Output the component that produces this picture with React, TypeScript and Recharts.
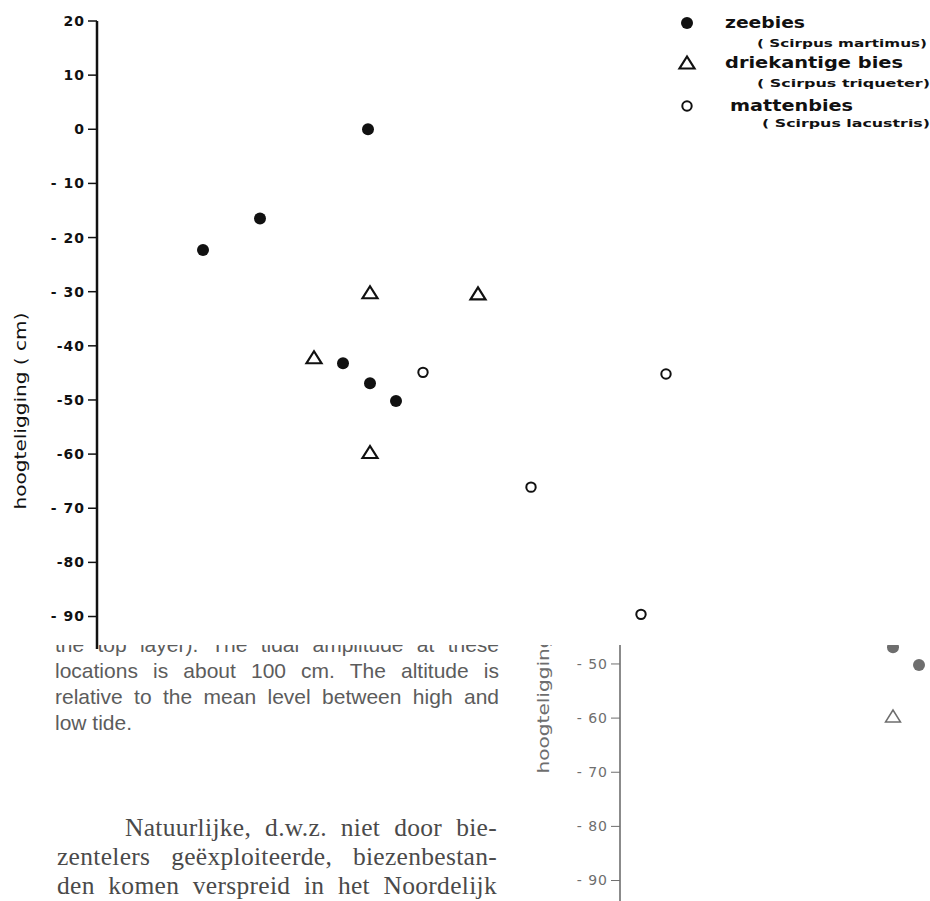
import React from 'react'
import { ScatterChart, Scatter, XAxis, YAxis, Legend } from 'recharts'

// y axis ticks and how they are printed in the figure
const yTicks = [20, 10, 0, -10, -20, -30, -40, -50, -60, -70, -80, -90]
const yTickLabels = ['20', '10', '0', '- 10', '- 20', '- 30', '-40', '-50', '-60', '- 70', '-80', '- 90']

// series (x has no axis in the figure, it only spreads the points)
const zeebiesX = [27.1, 16.3, 10.6, 24.6, 27.3, 29.9]
const zeebiesY = [0, -16.5, -22.3, -43.2, -46.9, -50.2]
const driekantigeX = [27.3, 38.1, 21.7, 27.3]
const driekantigeY = [-30.2, -30.4, -42.2, -59.7]
const mattenbiesX = [32.6, 56.9, 43.4, 54.4]
const mattenbiesY = [-44.9, -45.2, -66.1, -89.6]

const seriesNames = ['zeebies', 'driekantige bies', 'mattenbies']
const latinNames = ['( Scirpus martimus)', '( Scirpus triqueter)', '( Scirpus lacustris)']

const captionLines = [
  'the top layer). The tidal amplitude at these',
  'locations is about 100 cm. The altitude is',
  'relative to the mean level between high and',
  'low tide.',
]
const bodyLines = [
  'Natuurlijke, d.w.z. niet door bie-',
  'zentelers geëxploiteerde, biezenbestan-',
  'den komen verspreid in het Noordelijk',
]

const toPoints = (xs: number[], ys: number[]) => xs.map((x, i) => ({ x, y: ys[i] }))

const FONT = '"DejaVu Sans", sans-serif'

function Dot({ cx, cy, color }: any) {
  return <circle cx={cx} cy={cy} r={6} fill={color} />
}
function Tri({ cx, cy, color, w = 2.2 }: any) {
  return (
    <path
      d={`M${cx},${cy - 6.5} L${cx - 7.5},${cy + 5.5} L${cx + 7.5},${cy + 5.5} Z`}
      fill="none"
      stroke={color}
      strokeWidth={w}
      strokeLinejoin="miter"
    />
  )
}
function Ring({ cx, cy, color, w = 2 }: any) {
  return <circle cx={cx} cy={cy} r={4.7} fill="none" stroke={color} strokeWidth={w} />
}

function LegendBox() {
  const c = '#111'
  const nameW = [80, 178, 123]
  const latinW = [170, 173, 168]
  const rows = [
    { sy: 23, nx: 65, ny: 28, lx: 97, ly: 47 },
    { sy: 63, nx: 65, ny: 68, lx: 97, ly: 87 },
    { sy: 106, nx: 70, ny: 111, lx: 102, ly: 127 },
  ]
  return (
    <div style={{ position: 'relative', height: 0 }}>
      <svg width={270} height={135} style={{ position: 'absolute', left: 0, top: 0 }}>
        {rows.map((r, i) => (
          <g key={i}>
            {i === 0 && <Dot cx={27} cy={r.sy} color={c} />}
            {i === 1 && <Tri cx={27} cy={r.sy} color={c} />}
            {i === 2 && <Ring cx={27} cy={r.sy} color={c} />}
            <text x={r.nx} y={r.ny} fontFamily={FONT} fontWeight={700} fontSize={15.5} fill={c}
              textLength={nameW[i]} lengthAdjust="spacingAndGlyphs">
              {seriesNames[i]}
            </text>
            <text x={r.lx} y={r.ly} fontFamily={FONT} fontWeight={700} fontSize={10.5} fill={c}
              textLength={latinW[i]} lengthAdjust="spacingAndGlyphs">
              {latinNames[i]}
            </text>
          </g>
        ))}
      </svg>
    </div>
  )
}

function AltitudeChart({ ghost = false }: { ghost?: boolean }) {
  const color = ghost ? '#6e6e6e' : '#111'
  const labels = ghost
    ? yTickLabels.map((l) => (l.startsWith('-') && !l.startsWith('- ') ? '- ' + l.slice(1) : l))
    : yTickLabels
  return (
    <ScatterChart width={930} height={901} margin={{ top: 21, right: 3, bottom: 252, left: 57 }}>
      <XAxis type="number" dataKey="x" domain={[0, 83]} hide />
      <YAxis
        type="number"
        dataKey="y"
        domain={[-96, 20]}
        ticks={yTicks}
        interval={0}
        width={40}
        tickSize={9}
        tickMargin={3}
        axisLine={{ stroke: color, strokeWidth: ghost ? 1.6 : 2.5 }}
        tickLine={{ stroke: color, strokeWidth: ghost ? 1 : 1.5 }}
        tick={{
          fill: color,
          fontSize: 14,
          fontWeight: ghost ? 400 : 700,
          fontFamily: FONT,
          letterSpacing: 1,
        }}
        tickFormatter={(v: number) => labels[yTicks.indexOf(v)] ?? String(v)}
        label={{
          content: () => (
            <text
              x={0}
              y={0}
              transform="translate(26,411) rotate(-90)"
              textAnchor="middle"
              fontFamily={FONT}
              fontSize={16}
              fill={color}
              textLength={197}
              lengthAdjust="spacingAndGlyphs"
            >
              hoogteligging ( cm)
            </text>
          ),
        }}
      />
      <Scatter
        name={seriesNames[0]}
        data={toPoints(zeebiesX, zeebiesY)}
        isAnimationActive={false}
        shape={(p: any) => <Dot cx={p.cx} cy={p.cy} color={color} />}
      />
      <Scatter
        name={seriesNames[1]}
        data={toPoints(driekantigeX, driekantigeY)}
        isAnimationActive={false}
        shape={(p: any) => <Tri cx={p.cx} cy={p.cy} color={color} w={ghost ? 1.5 : 2.2} />}
      />
      <Scatter
        name={seriesNames[2]}
        data={toPoints(mattenbiesX, mattenbiesY)}
        isAnimationActive={false}
        shape={(p: any) => <Ring cx={p.cx} cy={p.cy} color={color} w={ghost ? 1.5 : 2} />}
      />
      {!ghost && (
        <Legend
          content={() => <LegendBox />}
          wrapperStyle={{ position: 'absolute', left: 660, top: 0, width: 270, height: 0, overflow: 'visible' }}
        />
      )}
    </ScatterChart>
  )
}

export default function App() {
  return (
    <div style={{ position: 'absolute', left: 0, top: 0, width: 930, height: 901, overflow: 'hidden', background: '#fff' }}>
      {/* caption, its first line partly hidden under the figure */}
      <div style={{ position: 'absolute', left: 55, top: 645, width: 444, height: 96, overflow: 'hidden' }}>
        <div style={{ marginTop: -13, fontFamily: '"Liberation Sans", Arial, sans-serif', fontSize: 21, lineHeight: '26px', color: '#5c5c5c' }}>
          {captionLines.map((l, i) => (
            <div key={i} style={{ textAlign: 'justify', textAlignLast: i < 3 ? 'justify' : 'left', whiteSpace: 'nowrap' as any }}>
              {l}
            </div>
          ))}
        </div>
      </div>

      {/* body text */}
      <div style={{ position: 'absolute', left: 57, top: 813, width: 440, fontFamily: '"Liberation Serif", "DejaVu Serif", serif', fontSize: 25.5, lineHeight: '29px', color: '#4a4a4a', letterSpacing: 0.3 }}>
        {bodyLines.map((l, i) => (
          <div key={i} style={{ textAlign: 'justify', textAlignLast: 'justify', whiteSpace: 'nowrap' as any, paddingLeft: i === 0 ? 68 : 0 }}>
            {l}
          </div>
        ))}
      </div>

      {/* second, offset copy of the figure showing through at the lower right */}
      <div style={{ position: 'absolute', left: 530, top: 645, width: 400, height: 256, overflow: 'hidden' }}>
        <div style={{ position: 'absolute', left: -7, top: -381 }}>
          <AltitudeChart ghost />
        </div>
      </div>

      <div style={{ position: 'absolute', left: 0, top: 0 }}>
        <AltitudeChart />
      </div>
    </div>
  )
}
